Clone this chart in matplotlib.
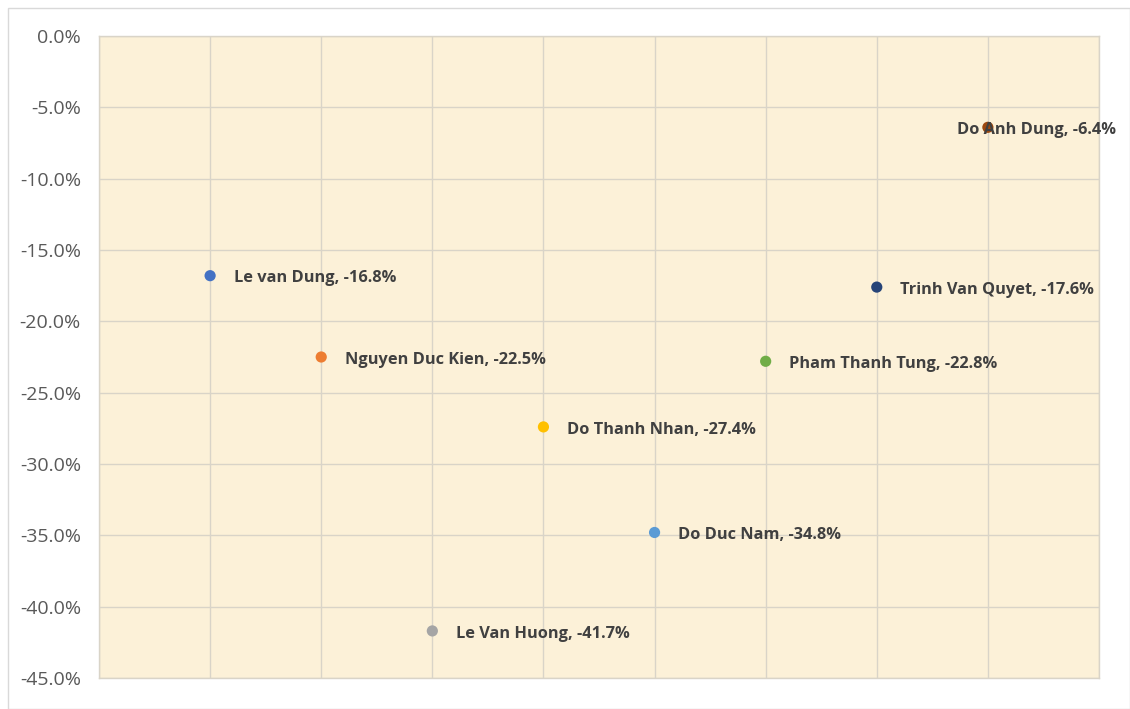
import matplotlib.pyplot as plt
from matplotlib.patches import Rectangle
from matplotlib.ticker import FuncFormatter

names = ["Le van Dung", "Nguyen Duc Kien", "Le Van Huong", "Do Thanh Nhan",
         "Do Duc Nam", "Pham Thanh Tung", "Trinh Van Quyet", "Do Anh Dung"]
xpos = [1, 2, 3, 4, 5, 6, 7, 8]
change = [-16.8, -22.5, -41.7, -27.4, -34.8, -22.8, -17.6, -6.4]
colors = ["#4472C4", "#ED7D31", "#A5A5A5", "#FFC000",
          "#5B9BD5", "#70AD47", "#264478", "#9E480E"]
yticks = [0, -5, -10, -15, -20, -25, -30, -35, -40, -45]

plt.rcParams['font.family'] = ['Open Sans', 'DejaVu Sans']

fig = plt.figure(figsize=(11.3, 7.09), dpi=100)
ax = fig.add_axes([99 / 1130, 1 - 678 / 709, 1000 / 1130, 642 / 709])
ax.set_facecolor("#FCF1D8")

ax.set_xlim(0, 9)
ax.set_ylim(-45, 0)
ax.set_xticks(range(0, 10))
ax.set_yticks(yticks)
ax.yaxis.set_major_formatter(FuncFormatter(lambda v, p: "%.1f%%" % v))
ax.tick_params(axis='x', labelbottom=False, length=0)
ax.tick_params(axis='y', length=0, labelsize=14, labelcolor="#595959", pad=13)
ax.grid(True, color="#D9D4C8", linewidth=1)
ax.set_axisbelow(True)
for s in ax.spines.values():
    s.set_color("#D9D4C8")
    s.set_linewidth(1)

for x, y, c, n in zip(xpos, change, colors, names):
    ax.scatter(x, y, s=65, color=c, zorder=3, edgecolors='none')
    # last label sits over its point, as in the source chart
    off = (-22, -2) if x == 8 else (17, -2)
    ax.annotate("%s, %.1f%%" % (n, y), (x, y), xytext=off,
                textcoords="offset points", va="center", ha="left",
                fontsize=11.8, fontweight="bold", color="#404040", zorder=4)

# outer chart border
fig.patches.append(Rectangle((8 / 1130, 0), 1 - 8 / 1130, 1 - 8 / 709,
                             transform=fig.transFigure, fill=False,
                             edgecolor="#D9D9D9", linewidth=1))

fig.savefig("out.png", dpi=100)
